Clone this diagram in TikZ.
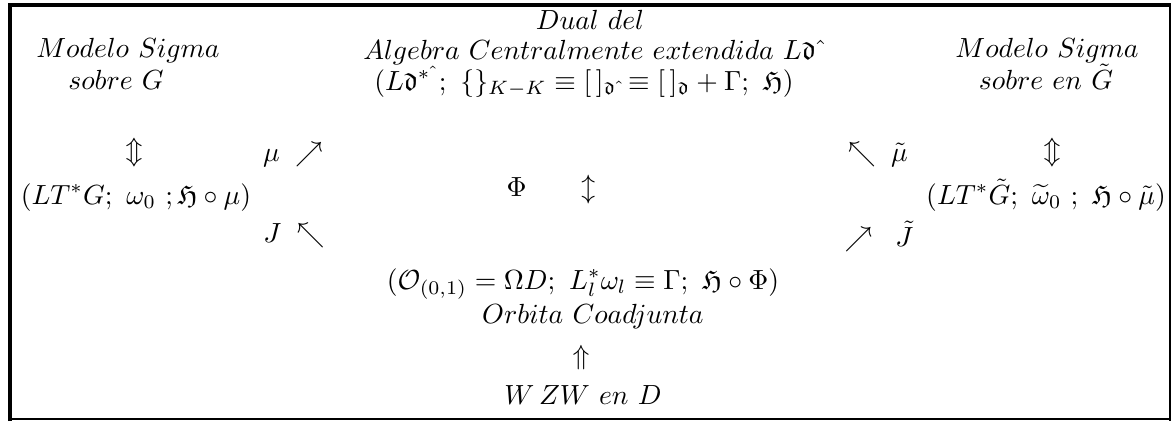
\documentclass[tikz,border=0pt]{standalone}
\usepackage{amssymb}
\begin{document}
\begin{tikzpicture}[x=0.3613pt,y=-0.3613pt,
  txt/.style={anchor=base,inner sep=0pt,outer sep=0pt},
  sym/.style={anchor=center,inner sep=0pt,outer sep=0pt}]
\useasboundingbox (0,0) rectangle (1176,421);
% frame
\draw[line width=1.3pt] (10,421) -- (10,5);
\draw[line width=1.1pt] (8,5) -- (1171,5);
\draw[line width=1.0pt] (1170,5) -- (1170,421);
\draw[line width=0.7pt] (10,419) -- (1171,419);
% centre top
\node[txt] (dual) at (590,29) {$Dual\ del$};
\node[txt] (alg) at (592,59) {$Algebra\ Centralmente\ extendida\ L\mathfrak{d}\,\hat{}$};
\node[txt] (algs) at (584,90) {$(L\mathfrak{d}^{*\,\hat{}}\,;\ \{\}_{K-K}\equiv[\,]_{\mathfrak{d}\,\hat{}}\equiv[\,]_{\mathfrak{d}}+\Gamma;\ \mathfrak{H})$};
% left
\node[txt] (lms) at (128,57) {$Modelo\ Sigma$};
\node[txt] (lsg) at (116,89) {$sobre\ G$};
\node[sym] (lud) at (134,153) {$\Updownarrow$};
\node[txt] (lsp) at (136,204) {$(LT^*G;\ \omega_0\ ;\mathfrak{H}\circ\mu)$};
\node[sym] (mu) at (293,155) {$\mu\;\nearrow$};
\node[sym] (jj) at (294,236) {$J\;\nwarrow$};
% centre
\node[sym] (phi) at (551,190) {$\Phi\hspace{17pt}\updownarrow$};
% right
\node[sym] (mut) at (878,155) {$\nwarrow\;\tilde{\mu}$};
\node[sym] (jt) at (879,236) {$\nearrow\;\;\tilde{J}$};
\node[txt] (rms) at (1047,57) {$Modelo\ Sigma$};
\node[txt] (rsg) at (1046,89) {$sobre\ en\ \tilde{G}$};
\node[sym] (rud) at (1052,153) {$\Updownarrow$};
\node[txt] (rsp) at (1046,204) {$(LT^*\tilde{G};\ \widetilde{\omega}_0\ ;\ \mathfrak{H}\circ\tilde{\mu})$};
% centre bottom
\node[txt] (orb) at (583,289) {$(\mathcal{O}_{(0,1)}=\Omega D;\ L_l^*\omega_l\equiv\Gamma;\ \mathfrak{H}\circ\Phi)$};
\node[txt] (oc) at (593,323) {$Orbita\ Coadjunta$};
\node[sym] (up) at (581,358) {$\Uparrow$};
\node[txt] (wzw) at (583,404) {$W\,ZW\ en\ D$};
\end{tikzpicture}
\end{document}
